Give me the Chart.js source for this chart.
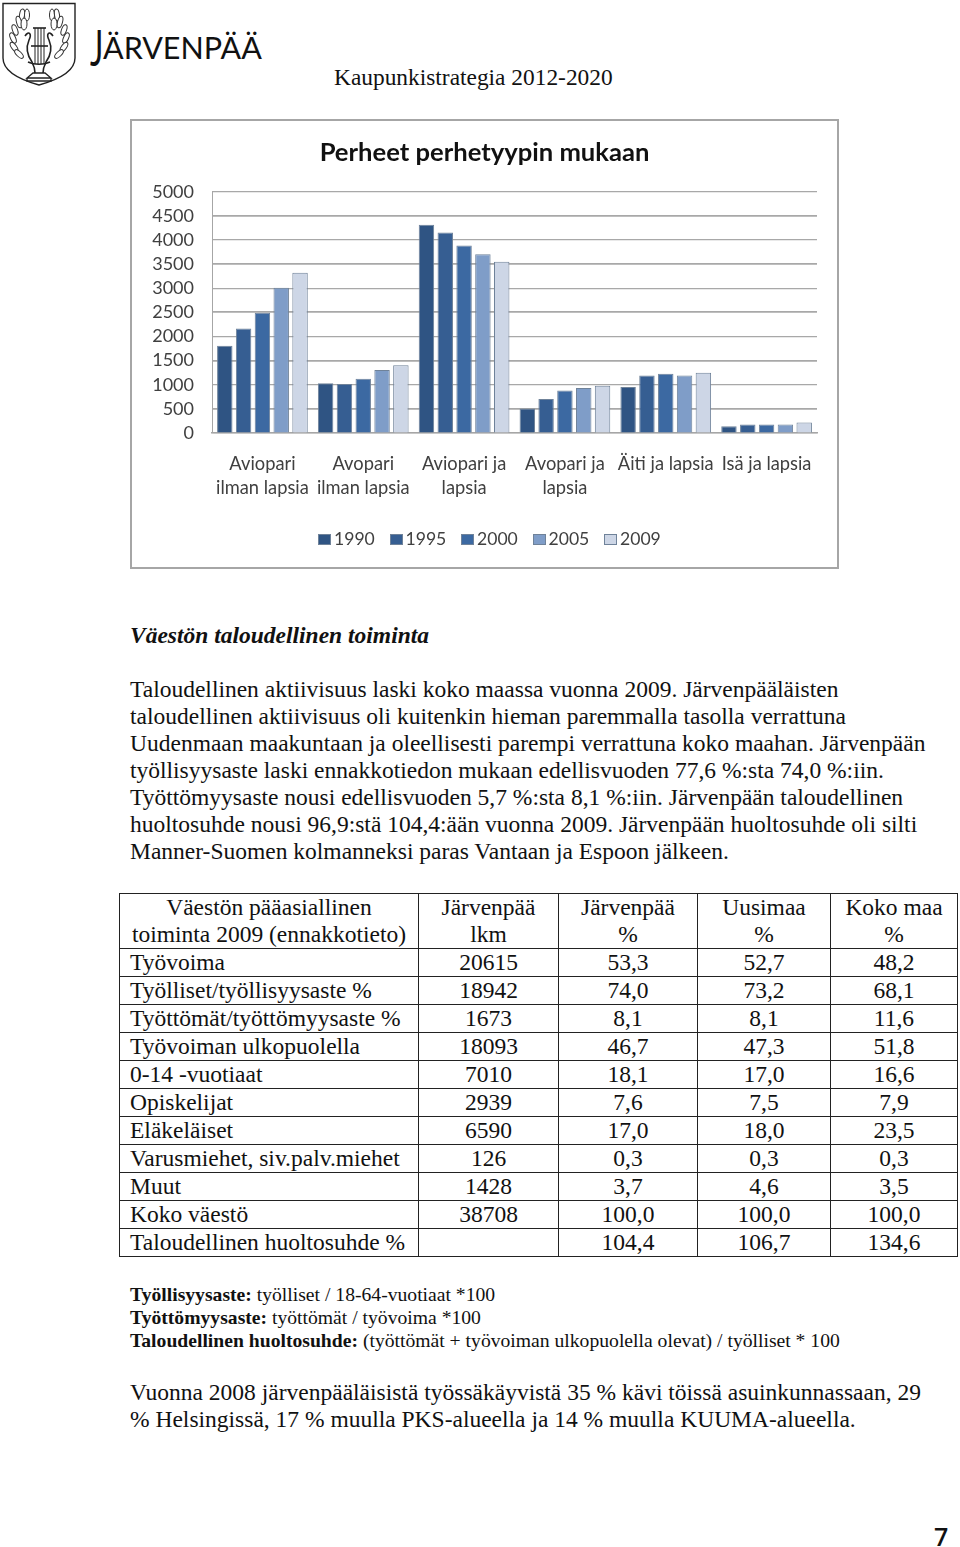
<!DOCTYPE html>
<html lang="fi">
<head>
<meta charset="utf-8">
<title>Perheet perhetyypin mukaan</title>
<script src="https://cdn.jsdelivr.net/npm/chart.js@4"></script>
<style>
  html, body { margin: 0; padding: 0; background: #fff; }
  body { position: relative; width: 960px; height: 1547px; overflow: hidden; font-family: "Liberation Serif", serif; color: #111; }
  .abs { position: absolute; white-space: nowrap; }
  #frame { position: absolute; left: 130px; top: 119px; width: 709px; height: 450px; box-sizing: border-box; border: 2px solid #a6a6a6; }
  #chart { position: absolute; left: -1px; top: -1px; }
  #legend { position: absolute; left: 186px; top: 407px; display: flex; font-family: Lato, sans-serif; font-size: 17.6px; line-height: 22px; color: #404040; }
  #legend span { display: flex; align-items: center; width: 71.5px; }
  #legend i { display: block; width: 13px; height: 11px; margin-right: 3px; border: 1px solid #6f8299; box-sizing: border-box; }
  .line { position: absolute; left: 130px; font-size: 23.5px; line-height: 27px; white-space: nowrap; }
  .note { position: absolute; left: 130px; font-size: 19.65px; line-height: 23px; white-space: nowrap; }
  table { position: absolute; left: 119px; top: 893px; width: 838px; border-collapse: collapse; table-layout: fixed; font-size: 23.5px; line-height: 27px; }
  td { border: 1.5px solid #222; padding: 0; height: 27px; text-align: center; white-space: nowrap; overflow: hidden; }
  td.name { text-align: left; padding-left: 10px; }
</style>
</head>
<body>

<svg class="abs" style="left:2px;top:2px" width="75" height="84" viewBox="0 0 75 84">
  <path d="M1 1.5H73V56C73 70 55 78 37 83C19 78 1 70 1 56Z" fill="#fff" stroke="#222" stroke-width="1.4"/>
  <g fill="#fff" stroke="#333" stroke-width="1">
    <ellipse cx="20" cy="13" rx="2.5" ry="6" transform="rotate(8 20 13)"/>
    <ellipse cx="25" cy="13" rx="2.5" ry="6" transform="rotate(0 25 13)"/>
    <ellipse cx="17" cy="20" rx="2.5" ry="6" transform="rotate(-15 17 20)"/>
    <ellipse cx="22" cy="22" rx="3" ry="6"/>
    <ellipse cx="13" cy="28" rx="2.5" ry="5.5" transform="rotate(-20 13 28)"/>
    <ellipse cx="11" cy="36" rx="2.5" ry="5.5" transform="rotate(-25 11 36)"/>
    <ellipse cx="12" cy="45" rx="2.5" ry="5.5" transform="rotate(-35 12 45)"/>
    <ellipse cx="17" cy="52" rx="2.5" ry="5.5" transform="rotate(-45 17 52)"/>
    <ellipse cx="50" cy="13" rx="2.5" ry="6"/>
    <ellipse cx="55" cy="13" rx="2.5" ry="6" transform="rotate(-8 55 13)"/>
    <ellipse cx="58" cy="20" rx="2.5" ry="6" transform="rotate(15 58 20)"/>
    <ellipse cx="52" cy="22" rx="3" ry="6"/>
    <ellipse cx="62" cy="28" rx="2.5" ry="5.5" transform="rotate(20 62 28)"/>
    <ellipse cx="64" cy="36" rx="2.5" ry="5.5" transform="rotate(25 64 36)"/>
    <ellipse cx="62" cy="45" rx="2.5" ry="5.5" transform="rotate(35 62 45)"/>
    <ellipse cx="57" cy="52" rx="2.5" ry="5.5" transform="rotate(45 57 52)"/>
  </g>
  <g fill="none" stroke="#222" stroke-width="1.6">
    <path d="M23 34C27 28 30 32 27 38C24 45 25 53 30 60C32 64 33 68 33 71"/>
    <path d="M51 34C47 28 44 32 47 38C50 45 49 53 44 60C42 64 41 68 41 71"/>
    <path d="M26 60C32 63 42 63 48 60"/>
    <path d="M31 26H44"/>
    <path d="M33 26V62M36 26V62M39 26V62M42 26V62" stroke-width="1"/>
    <path d="M29 44H46"/>
    <path d="M31 71H43L49 76H25ZM25 76V79H49V76" stroke-width="1.3"/>
  </g>
</svg>
<div class="abs" style="left:90px;top:19px;font-family:Lato,sans-serif;color:#111;font-size:51px;line-height:56px;transform:scaleX(0.62);transform-origin:left">J</div>
<div class="abs" style="left:103px;top:29px;font-family:Lato,sans-serif;color:#111;font-size:30.5px;line-height:36px">ÄRVENPÄÄ</div>
<div class="abs" style="left:334px;top:64px;font-size:23.4px;line-height:27px">Kaupunkistrategia 2012-2020</div>

<div id="frame"><canvas id="chart" width="707" height="448"></canvas><div id="legend"></div></div>

<div class="abs" style="left:130px;top:622px;font-size:23.5px;line-height:27px;font-style:italic;font-weight:bold">Väestön taloudellinen toiminta</div>
<div id="para"></div>
<table id="tbl"></table>
<div id="notes"></div>
<div id="para2"></div>
<div class="abs" style="left:934px;top:1520px;font-family:'Open Sans',sans-serif;font-weight:600;font-size:25px;line-height:32px">7</div>

<script>
// chart data
const categories = [
  ["Aviopari", "ilman lapsia"],
  ["Avopari", "ilman lapsia"],
  ["Aviopari ja", "lapsia"],
  ["Avopari ja", "lapsia"],
  "Äiti ja lapsia",
  "Isä ja lapsia"
];
const years = ["1990", "1995", "2000", "2005", "2009"];
const values1990 = [1810, 1030, 4315, 510, 955, 140];
const values1995 = [2165, 1015, 4155, 705, 1190, 175];
const values2000 = [2490, 1125, 3885, 880, 1230, 175];
const values2005 = [3010, 1305, 3705, 935, 1190, 175];
const values2009 = [3320, 1405, 3550, 980, 1250, 215];
const yTicks = [0, 500, 1000, 1500, 2000, 2500, 3000, 3500, 4000, 4500, 5000];
const fills = ["#2f5483", "#365e92", "#3c69a2", "#7f9dc8", "#cdd6e6"];

// text of the page
const paragraph1 = [
  "Taloudellinen aktiivisuus laski koko maassa vuonna 2009. Järvenpääläisten",
  "taloudellinen aktiivisuus oli kuitenkin hieman paremmalla tasolla verrattuna",
  "Uudenmaan maakuntaan ja oleellisesti parempi verrattuna koko maahan. Järvenpään",
  "työllisyysaste laski ennakkotiedon mukaan edellisvuoden 77,6 %:sta 74,0 %:iin.",
  "Työttömyysaste nousi edellisvuoden 5,7 %:sta 8,1 %:iin. Järvenpään taloudellinen",
  "huoltosuhde nousi 96,9:stä 104,4:ään vuonna 2009. Järvenpään huoltosuhde oli silti",
  "Manner-Suomen kolmanneksi paras Vantaan ja Espoon jälkeen."
];
const tableHead = [
  ["Väestön pääasiallinen", "toiminta 2009 (ennakkotieto)"],
  ["Järvenpää", "lkm"],
  ["Järvenpää", "%"],
  ["Uusimaa", "%"],
  ["Koko maa", "%"]
];
const tableRows = [
  ["Työvoima", "20615", "53,3", "52,7", "48,2"],
  ["Työlliset/työllisyysaste %", "18942", "74,0", "73,2", "68,1"],
  ["Työttömät/työttömyysaste %", "1673", "8,1", "8,1", "11,6"],
  ["Työvoiman ulkopuolella", "18093", "46,7", "47,3", "51,8"],
  ["0-14 -vuotiaat", "7010", "18,1", "17,0", "16,6"],
  ["Opiskelijat", "2939", "7,6", "7,5", "7,9"],
  ["Eläkeläiset", "6590", "17,0", "18,0", "23,5"],
  ["Varusmiehet, siv.palv.miehet", "126", "0,3", "0,3", "0,3"],
  ["Muut", "1428", "3,7", "4,6", "3,5"],
  ["Koko väestö", "38708", "100,0", "100,0", "100,0"],
  ["Taloudellinen huoltosuhde %", "", "104,4", "106,7", "134,6"]
];
const colWidths = [299, 140, 139, 133, 127];
const notes = [
  ["Työllisyysaste:", " työlliset / 18-64-vuotiaat *100"],
  ["Työttömyysaste:", " työttömät / työvoima *100"],
  ["Taloudellinen huoltosuhde:", " (työttömät + työvoiman ulkopuolella olevat) / työlliset * 100"]
];
const paragraph2 = [
  "Vuonna 2008 järvenpääläisistä työssäkäyvistä 35 % kävi töissä asuinkunnassaan, 29",
  "% Helsingissä, 17 % muulla PKS-alueella ja 14 % muulla KUUMA-alueella."
];

const addLines = (holderId, lines, top) => {
  const holder = document.getElementById(holderId);
  lines.forEach((text, i) => {
    const item = document.createElement("div");
    item.className = "line";
    item.style.top = `${top + i * 27}px`;
    item.textContent = text;
    holder.appendChild(item);
  });
};
addLines("para", paragraph1, 676);
addLines("para2", paragraph2, 1379);

const notesBox = document.getElementById("notes");
notes.forEach((note, i) => {
  const item = document.createElement("div");
  item.className = "note";
  item.style.top = `${1283 + i * 23}px`;
  item.innerHTML = `<b>${note[0]}</b>${note[1]}`;
  notesBox.appendChild(item);
});

const tbl = document.getElementById("tbl");
tbl.innerHTML =
  `<colgroup>${colWidths.map((w) => `<col style="width:${w}px">`).join("")}</colgroup>` +
  `<tr>${tableHead.map((h) => `<td style="height:54px">${h.join("<br>")}</td>`).join("")}</tr>` +
  tableRows.map((row) =>
    `<tr>${row.map((c, i) => `<td class="${i === 0 ? "name" : ""}">${c}</td>`).join("")}</tr>`
  ).join("");

document.getElementById("legend").innerHTML = years
  .map((year, i) => `<span><i style="background:${fills[i]}"></i>${year}</span>`)
  .join("");

const seriesValues = [values1990, values1995, values2000, values2005, values2009];

new Chart(document.getElementById("chart"), {
  type: "bar",
  data: {
    labels: categories,
    datasets: years.map((year, i) => ({
      label: year,
      data: seriesValues[i],
      backgroundColor: fills[i],
      borderColor: "#6f8299",
      borderWidth: 1,
      categoryPercentage: 0.933,
      barPercentage: 0.82
    }))
  },
  options: {
    responsive: false,
    animation: false,
    devicePixelRatio: 1,
    plugins: {
      title: {
        display: true,
        text: "Perheet perhetyypin mukaan",
        color: "#111",
        font: { family: "Lato", size: 25.6, weight: "bold", lineHeight: 1.2 },
        padding: { top: 17, bottom: 24 }
      },
      legend: { display: false },
      tooltip: { enabled: false }
    },
    scales: {
      x: {
        afterFit: (scale) => { scale.height = 135; },
        grid: { display: false, drawTicks: false },
        border: { color: "#a6a6a6", width: 1.5 },
        ticks: {
          color: "#404040",
          font: { family: "Lato", size: 18.3, lineHeight: 1.31 },
          padding: 19,
          autoSkip: false,
          maxRotation: 0
        }
      },
      y: {
        min: 0,
        max: 5000,
        afterFit: (scale) => { scale.width = 81; },
        afterBuildTicks: (scale) => { scale.ticks = yTicks.map((value) => ({ value })); },
        grid: {
          color: "#a8a8a8",
          lineWidth: (ctx) => (ctx.index % 2 === 1 ? 1.8 : 1.2),
          drawTicks: false
        },
        border: { color: "#a6a6a6", width: 1 },
        ticks: {
          color: "#404040",
          font: { family: "Lato", size: 18 },
          padding: 18,
          autoSkip: false,
          callback: (value) => String(value)
        }
      },
      // empty axis, only keeps the plot clear of the right edge
      spacer: {
        position: "right",
        afterFit: (scale) => { scale.width = 21; },
        grid: { display: false, drawTicks: false },
        border: { display: false },
        ticks: { display: false }
      }
    }
  }
});
</script>
</body>
</html>
